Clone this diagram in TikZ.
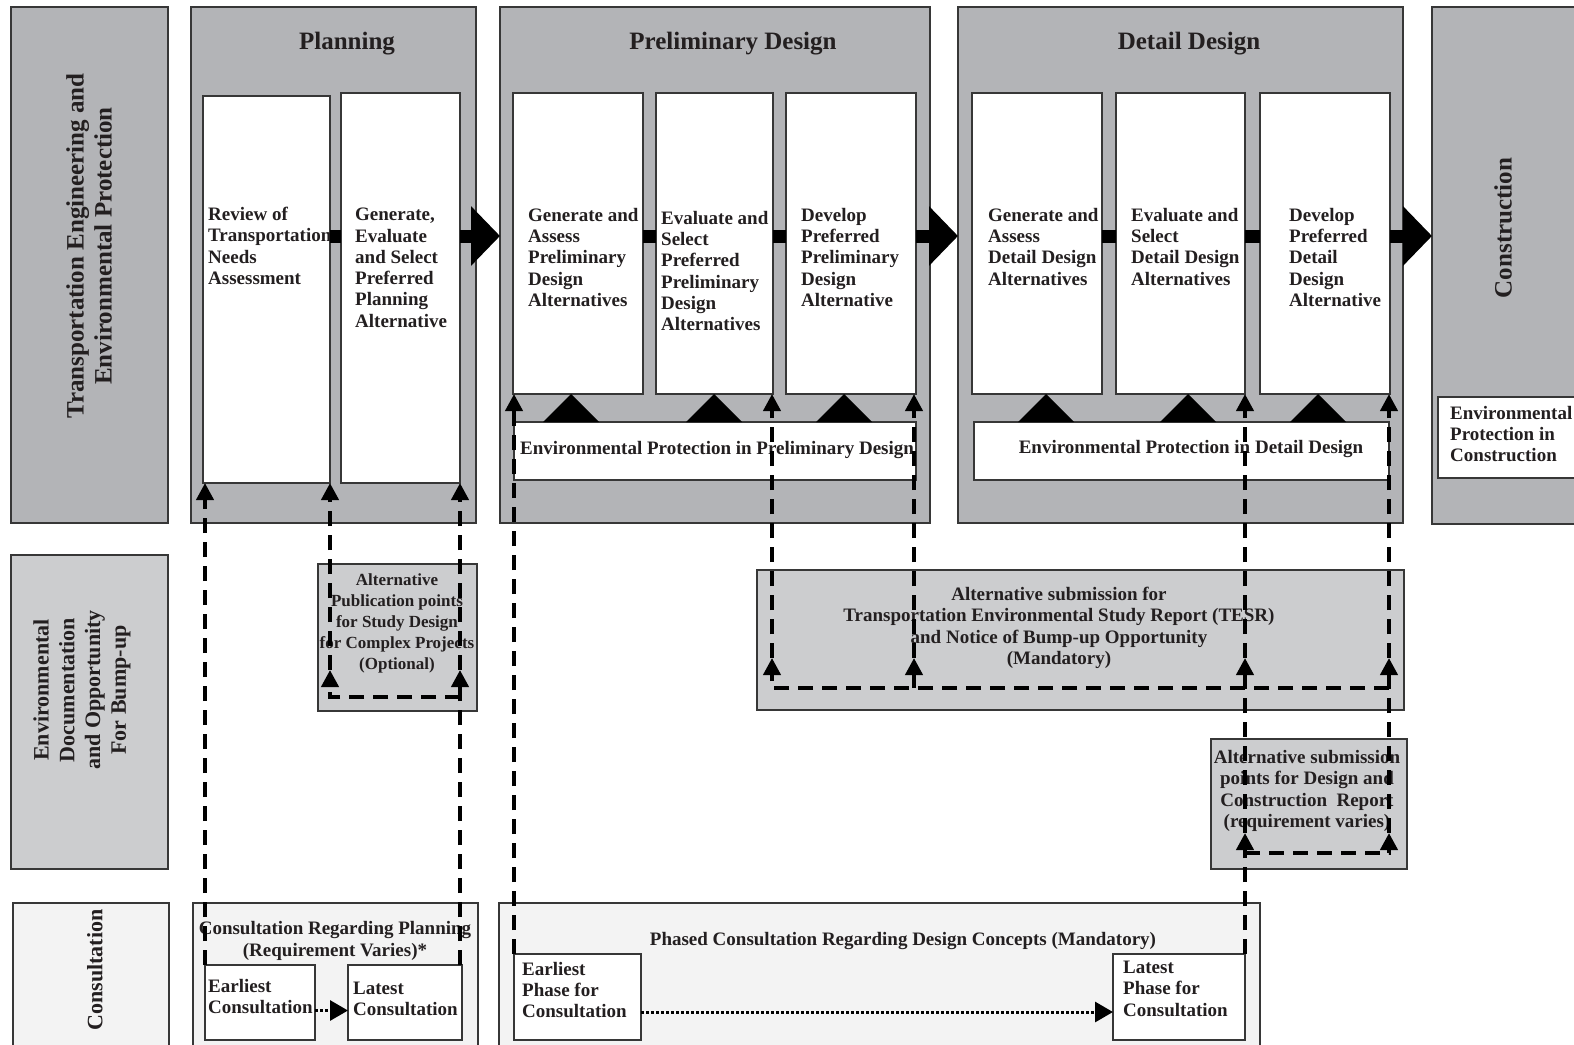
\documentclass[tikz,border=0pt]{standalone}
\usepackage{fontspec}
\setmainfont{Liberation Serif}
\usepackage{xcolor}
\usepackage{tikz}
\usetikzlibrary{arrows.meta, fit, positioning}

\definecolor{phasegray}{RGB}{179,180,183}
\definecolor{docgray}{RGB}{204,205,207}
\definecolor{congray}{RGB}{243,243,243}
\definecolor{edgec}{RGB}{55,55,55}
\definecolor{txtc}{RGB}{35,31,32}

\begin{document}
\begin{tikzpicture}[x=1pt, y=-1pt,
    lanebox/.style={draw=edgec, line width=1.3pt, inner sep=0pt, outer sep=0pt},
    phase/.style={lanebox, fill=phasegray},
    stepbox/.style={lanebox, fill=white},
    docbox/.style={lanebox, fill=docgray},
    conbox/.style={lanebox, fill=congray},
    steptext/.style={anchor=north west, inner sep=0pt, align=left, text=txtc,
        font=\fontsize{19}{21.3}\selectfont\bfseries},
    midtext/.style={steptext, anchor=center, align=center},
    phasetitle/.style={inner sep=0pt, text=txtc, font=\fontsize{25}{28}\selectfont\bfseries},
    flowbar/.style={line width=13pt},
    bigarrow/.style={line width=13pt, -{Triangle[width=58pt,length=29pt]}},
    dline/.style={line width=4pt, dash pattern=on 15pt off 9pt, -{Triangle[width=17pt,length=17pt]}},
    dotline/.style={line width=3pt, dash pattern=on 3pt off 2pt, -{Triangle[width=20pt,length=18pt]}}]
    \useasboundingbox (0,0) rectangle (1574,1044);
    \fill[white] (0,0) rectangle (1574,1044);
    \clip (0,0) rectangle (1574,1044);

    % 1. Phase boxes
    \node[phase, fit={(11,7) (168,523)}] (lab1) {};
    \node[phase, fit={(191,7) (476,523)}] (plan) {};
    \node[phase, fit={(500,7) (930,523)}] (prel) {};
    \node[phase, fit={(958,7) (1403,523)}] (det) {};
    \node[phase, fit={(1432,7) (1600,524)}] (cons) {};

    \node[phasetitle] at (347,44) {Planning};
    \node[phasetitle] at (733,44) {Preliminary Design};
    \node[phasetitle] at (1189,44) {Detail Design};
    \node[phasetitle, rotate=90, align=center] at (89,246) {Transportation Engineering and\\Environmental Protection};
    \node[phasetitle, rotate=90] at (1503,228) {Construction};

    % 2. Steps
    \node[stepbox, fit={(203,96) (330,483)}] (rev) {};
    \node[stepbox, fit={(341,93) (460,483)}] (gen) {};
    \node[stepbox, fit={(513,93) (643,394)}] (pga) {};
    \node[stepbox, fit={(656,93) (773,394)}] (pev) {};
    \node[stepbox, fit={(786,93) (916,394)}] (pdv) {};
    \node[stepbox, fit={(972,93) (1102,394)}] (dga) {};
    \node[stepbox, fit={(1116,93) (1245,394)}] (dev) {};
    \node[stepbox, fit={(1260,93) (1390,394)}] (ddv) {};
    \node[stepbox, fit={(514,422) (916,480)}] (epp) {};
    \node[stepbox, fit={(974,422) (1389,480)}] (epd) {};
    \node[stepbox, fit={(1438,397) (1600,478)}] (epc) {};

    \node[steptext] at (208,207) {Review of\\Transportation\\Needs\\Assessment};
    \node[steptext] at (355,208) {Generate,\\Evaluate\\and Select\\Preferred\\Planning\\Alternative};
    \node[steptext] at (528,208) {Generate and\\Assess\\Preliminary\\Design\\Alternatives};
    \node[steptext] at (661,211) {Evaluate and\\Select\\Preferred\\Preliminary\\Design\\Alternatives};
    \node[steptext] at (801,208) {Develop\\Preferred\\Preliminary\\Design\\Alternative};
    \node[steptext] at (988,208) {Generate and\\Assess\\Detail Design\\Alternatives};
    \node[steptext] at (1131,208) {Evaluate and\\Select\\Detail Design\\Alternatives};
    \node[steptext] at (1289,208) {Develop\\Preferred\\Detail\\Design\\Alternative};
    \node[steptext, anchor=west] at (520,450) {Environmental Protection in Preliminary Design};
    \node[midtext] at (1191,449) {Environmental Protection in Detail Design};
    \node[steptext] at (1450,406) {Environmental\\Protection in\\Construction};

    % 3. Flow between steps
    \coordinate (fy) at (0,236);
    \draw[flowbar] (rev.east |- fy) -- (gen.west |- fy);
    \draw[bigarrow] (gen.east |- fy) -- (prel.west |- fy);
    \draw[flowbar] (pga.east |- fy) -- (pev.west |- fy);
    \draw[flowbar] (pev.east |- fy) -- (pdv.west |- fy);
    \draw[bigarrow] (pdv.east |- fy) -- (det.west |- fy);
    \draw[flowbar] (dga.east |- fy) -- (dev.west |- fy);
    \draw[flowbar] (dev.east |- fy) -- (ddv.west |- fy);
    \draw[bigarrow] (ddv.east |- fy) -- (cons.west |- fy);
    \foreach \tx in {571,714,844,1046,1188,1318}
        \fill[black] (\tx-28,422) -- (\tx,394) -- (\tx+28,422) -- cycle;

    % 4. Documentation
    \node[docbox, fit={(11,555) (168,869)}] (lab2) {};
    \node[docbox, fit={(318,564) (477,711)}] (altp) {};
    \node[docbox, fit={(757,570) (1404,710)}] (tesr) {};
    \node[docbox, fit={(1211,739) (1407,869)}] (dcr) {};

    \node[midtext, rotate=90, font=\fontsize{22}{25.7}\selectfont\bfseries] at (82,690) {Environmental\\Documentation\\and Opportunity\\For Bump-up};
    \node[midtext, font=\fontsize{17}{21}\selectfont\bfseries] at (397,623) {Alternative\\Publication points\\for Study Design\\for Complex Projects\\(Optional)};
    \node[midtext] at (1059,628) {Alternative submission for\\Transportation Environmental Study Report (TESR)\\and Notice of Bump-up Opportunity\\(Mandatory)};
    \node[midtext] at (1307,791) {Alternative submission\\points for Design and\\Construction~ Report\\(requirement varies)};

    % 5. Consultation
    \node[conbox, fit={(13,903) (169,1060)}] (lab3) {};
    \node[conbox, fit={(193,903) (478,1060)}] (cplan) {};
    \node[conbox, fit={(499,903) (1260,1060)}] (cdes) {};
    \node[stepbox, fit={(205,965) (315,1040)}] (ear) {};
    \node[stepbox, fit={(348,965) (462,1040)}] (lat) {};
    \node[stepbox, fit={(514,954) (641,1040)}] (eph) {};
    \node[stepbox, fit={(1113,954) (1245,1040)}] (lph) {};

    \node[midtext, rotate=90, font=\fontsize{22}{25.7}\selectfont\bfseries] at (95,970) {Consultation};
    \node[midtext] at (335,941) {Consultation Regarding Planning\\(Requirement Varies)*};
    \node[midtext] at (903,941) {Phased Consultation Regarding Design Concepts (Mandatory)};
    \node[steptext] at (208,979) {Earliest\\Consultation};
    \node[steptext] at (353,982) {Latest\\Consultation};
    \node[steptext] at (522,962) {Earliest\\Phase for\\Consultation};
    \node[steptext] at (1123,961) {Latest\\Phase for\\Consultation};

    \draw[dotline] ([yshift=-8pt]ear.east) -- ([yshift=-8pt]lat.west);
    \draw[dotline] ([yshift=-15pt]eph.east) -- ([yshift=-15pt]lph.west);

    % 6. Dashed links, planning
    \coordinate (pl1) at (330,697);
    \coordinate (pl2) at (460,697);
    \coordinate (pt1) at (330,670);
    \coordinate (pt2) at (460,670);
    \draw[dline] (ear.north west) -- (rev.south west -| ear.north west);
    \draw[dline] (pl2 |- lat.north) -- (pt2);
    \draw[dline] (pt2) -- (pt2 |- gen.south);
    \draw[dline] (pl2) -- (pl1) -- (pt1);
    \draw[dline] (pt1) -- (pt1 |- rev.south);

    % 7. Dashed links, design
    \coordinate (t1) at (772,688);
    \coordinate (t2) at (914,688);
    \coordinate (t3) at (1389,688);
    \coordinate (u1) at (772,658);
    \coordinate (u2) at (914,658);
    \coordinate (u3) at (1245,658);
    \coordinate (u4) at (1389,658);
    \coordinate (r1) at (1245,853);
    \coordinate (r2) at (1389,853);
    \coordinate (v1) at (1245,833);
    \coordinate (v2) at (1389,833);
    \draw[dline] (eph.north west) -- (eph.north west |- pga.south);
    \draw[dline] (t3) -- (t1) -- (u1);
    \draw[dline] (u1) -- (u1 |- pev.south);
    \draw[dline] (t2) -- (u2);
    \draw[dline] (u2) -- (u2 |- pdv.south);
    \draw[dline] (lph.north east) -- (v1);
    \draw[dline] (v1) -- (u3);
    \draw[dline] (u3) -- (u3 |- dev.south);
    \draw[dline] (r1) -- (r2) -- (v2);
    \draw[dline] (v2) -- (u4);
    \draw[dline] (u4) -- (u4 |- ddv.south);
\end{tikzpicture}
\end{document}
